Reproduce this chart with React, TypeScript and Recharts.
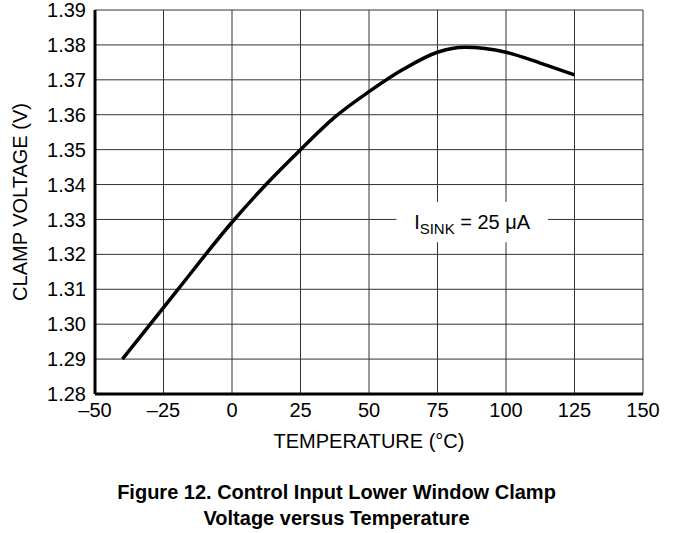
import React from 'react';
import {
  LineChart,
  Line,
  XAxis,
  YAxis,
  CartesianGrid,
  ReferenceArea,
} from 'recharts';

// temperature (°C) vs clamp voltage (V)
const temps = [-40, -20, 0, 12.5, 25, 37.5, 50, 62.5, 75, 85, 100, 112.5, 125];
const volts = [1.29, 1.3097, 1.3292, 1.3401, 1.35, 1.3593, 1.3666, 1.373, 1.3779, 1.3793, 1.3779, 1.3748, 1.3714];

const xTicks = [-50, -25, 0, 25, 50, 75, 100, 125, 150];
const yTicks = [1.28, 1.29, 1.3, 1.31, 1.32, 1.33, 1.34, 1.35, 1.36, 1.37, 1.38, 1.39];

const data = temps.map((t, i) => ({ t, v: volts[i] }));

const FONT = '"Liberation Sans", Arial, Helvetica, sans-serif';
const FS = 20;

const AnnotLabel = (props: any) => {
  const { x, y, width, height } = props.viewBox;
  const cx = x + width / 2;
  const cy = y + height / 2;
  return (
    <text x={cx} y={cy + 7} textAnchor="middle" fontSize={FS} fontFamily={FONT} fill="#000">
      <tspan>I</tspan>
      <tspan fontSize={15} dy={5}>SINK</tspan>
      <tspan dy={-5}> = 25 μA</tspan>
    </text>
  );
};

const YTitle = (props: any) => {
  const { y, height } = props.viewBox;
  const cy = y + height / 2;
  return (
    <text
      x={0}
      y={0}
      transform={`translate(${27}, ${cy}) rotate(-90)`}
      textAnchor="middle"
      fontSize={FS}
      fontFamily={FONT}
      fill="#000"
    >
      CLAMP VOLTAGE (V)
    </text>
  );
};

export default function App() {
  return (
    <div style={{ position: 'absolute', left: 0, top: 0, width: 673, height: 533, background: '#fff', fontFamily: FONT }}>
      <LineChart
        width={673}
        height={460}
        data={data}
        margin={{ top: 10, right: 30, bottom: 0, left: 0 }}
      >
        <CartesianGrid stroke="#333" strokeWidth={1} />
        <XAxis
          type="number"
          dataKey="t"
          domain={[-50, 150]}
          ticks={xTicks}
          interval={0}
          height={66}
          tickLine={false}
          tickSize={0}
          tickMargin={9}
          axisLine={{ stroke: '#000', strokeWidth: 3 }}
          tick={{ fill: '#000', fontSize: FS, fontFamily: FONT }}
          tickFormatter={(v: number) => (v < 0 ? `\u2013${-v}` : `${v}`)}
          label={{ value: 'TEMPERATURE (°C)', position: 'insideBottom', offset: 12, fill: '#000', fontSize: FS, fontFamily: FONT }}
        />
        <YAxis
          type="number"
          dataKey="v"
          domain={[1.28, 1.39]}
          ticks={yTicks}
          interval={0}
          width={95}
          tickLine={false}
          tickSize={0}
          tickMargin={9}
          axisLine={{ stroke: '#000', strokeWidth: 3 }}
          tick={{ fill: '#000', fontSize: FS, fontFamily: FONT }}
          tickFormatter={(v: number) => v.toFixed(2)}
          label={YTitle}
        />
        <ReferenceArea
          x1={60}
          x2={115.3}
          y1={1.3235}
          y2={1.335}
          fill="#fff"
          fillOpacity={1}
          stroke="none"
          label={AnnotLabel}
        />
        <Line
          type="monotone"
          dataKey="v"
          stroke="#000"
          strokeWidth={3.5}
          dot={false}
          activeDot={false}
          isAnimationActive={false}
        />
      </LineChart>
      <div style={{ textAlign: 'center', fontWeight: 'bold', fontSize: FS, lineHeight: '26px', marginTop: 19, color: '#000' }}>
        Figure 12. Control Input Lower Window Clamp
        <br />
        Voltage versus Temperature
      </div>
    </div>
  );
}
